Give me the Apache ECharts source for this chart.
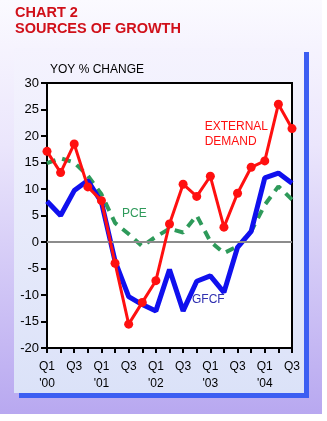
<!DOCTYPE html>
<html><head><meta charset="utf-8">
<script src="https://cdn.jsdelivr.net/npm/echarts@6/dist/echarts.min.js"></script>
<style>html,body{margin:0;padding:0;background:#fff}#c{width:327px;height:421px}</style>
</head><body><div id="c"></div>
<script>
var quarters = ['Q1','Q2','Q3','Q4','Q1','Q2','Q3','Q4','Q1','Q2','Q3','Q4','Q1','Q2','Q3','Q4','Q1','Q2','Q3'];
var years = ["'00","","","","'01","","","","'02","","","","'03","","","","'04","",""];
var externalDemand = [17.1, 13.1, 18.5, 10.4, 7.8, -4.0, -15.5, -11.4, -7.3, 3.4, 10.9, 8.6, 12.4, 2.8, 9.2, 14.1, 15.3, 26.0, 21.4];
var gfcf = [7.7, 5.0, 9.7, 11.6, 7.5, -3.6, -10.3, -11.8, -13.0, -5.2, -13.0, -7.4, -6.4, -9.5, -1.0, 2.0, 12.1, 13.0, 11.1];
var pce = [14.9, 15.8, 15.0, 12.5, 9.0, 3.6, 1.5, -0.8, 1.0, 2.5, 1.8, 5.0, 0.1, -2.1, -0.8, 2.0, 7.0, 10.5, 8.0];
var yTicks = {min: -20, max: 30, interval: 5};

var cats = quarters.map(function(q, i){ return q + '|' + years[i]; });
var chart = echarts.init(document.getElementById('c'), null, {renderer:'canvas'});
var FONT = 'Liberation Sans, Arial, sans-serif';
chart.setOption({
  animation: false,
  backgroundColor: '#ffffff',
  textStyle: {fontFamily: FONT},
  graphic: [
    {type:'rect', z:-10, shape:{x:0,y:0,width:322,height:414},
     style:{fill:{type:'linear',x:0,y:0,x2:0,y2:1,colorStops:[{offset:0,color:'#fbfaff'},{offset:0.35,color:'#ebe6fc'},{offset:1,color:'#b8a8f0'}]}}},
    {type:'rect', z:-9, shape:{x:19,y:52,width:290,height:346}, style:{fill:'#3c5ef2'}},
    {type:'rect', z:-8, shape:{x:14,y:48,width:290,height:345},
     style:{fill:{type:'linear',x:0,y:0,x2:0,y2:1,colorStops:[{offset:0,color:'#f5f3fe'},{offset:1,color:'#dbe2f8'}]}}},
    {type:'text', z:10, left:15, top:5, style:{text:'CHART 2', fill:'#d0101a', font:'bold 14.5px '+FONT}},
    {type:'text', z:10, left:15, top:21, style:{text:'SOURCES OF GROWTH', fill:'#d0101a', font:'bold 14.5px '+FONT}},
    {type:'text', z:10, left:50, top:64, style:{text:'YOY % CHANGE', fill:'#000', font:'12px '+FONT}},
    {type:'text', z:10, right:59, top:119, style:{text:'EXTERNAL\nDEMAND', fill:'#ff1010', font:'12px '+FONT, align:'right', lineHeight:15}},
    {type:'text', z:10, left:122, top:208, style:{text:'PCE', fill:'#2e9a5a', font:'12px '+FONT}},
    {type:'text', z:10, left:192, top:294, style:{text:'GFCF', fill:'#3030b0', font:'12px '+FONT}}
  ],
  grid: {left:47, right:35, top:83, bottom:73, show:true, backgroundColor:'#ffffff', borderColor:'#000', borderWidth:2},
  xAxis: {
    type:'category', data:cats, boundaryGap:false,
    axisLine:{onZero:false, lineStyle:{color:'#000', width:2}},
    axisTick:{show:true, interval:0, length:5, lineStyle:{color:'#000', width:2}},
    axisLabel:{interval:1, color:'#000', fontSize:12, fontFamily:FONT, margin:10, lineHeight:17,
      formatter:function(v){ var p=v.split('|'); return p[0] + '\n' + p[1]; }},
    splitLine:{show:false}
  },
  yAxis: {
    type:'value', min:yTicks.min, max:yTicks.max, interval:yTicks.interval,
    axisLine:{show:true, onZero:false, lineStyle:{color:'#000', width:2}},
    axisTick:{show:true, length:6, lineStyle:{color:'#000', width:2}},
    axisLabel:{color:'#000', fontSize:13, fontFamily:FONT, margin:8},
    splitLine:{show:false}
  },
  series: [
    {name:'PCE', type:'line', data:pce, symbol:'none', z:3,
     lineStyle:{color:'#2e9a5a', width:4, type:[9,7]},
     markLine:{silent:true, symbol:'none', label:{show:false}, data:[{yAxis:0}], lineStyle:{color:'#8c8c8c', width:2, type:'solid'}}},
    {name:'GFCF', type:'line', data:gfcf, symbol:'none', z:4,
     lineStyle:{color:'#1010ee', width:5}},
    {name:'External Demand', type:'line', data:externalDemand, symbol:'circle', symbolSize:9, showAllSymbol:true, z:5,
     itemStyle:{color:'#ff1010'}, lineStyle:{color:'#ff1010', width:3}}
  ]
});
</script></body></html>
